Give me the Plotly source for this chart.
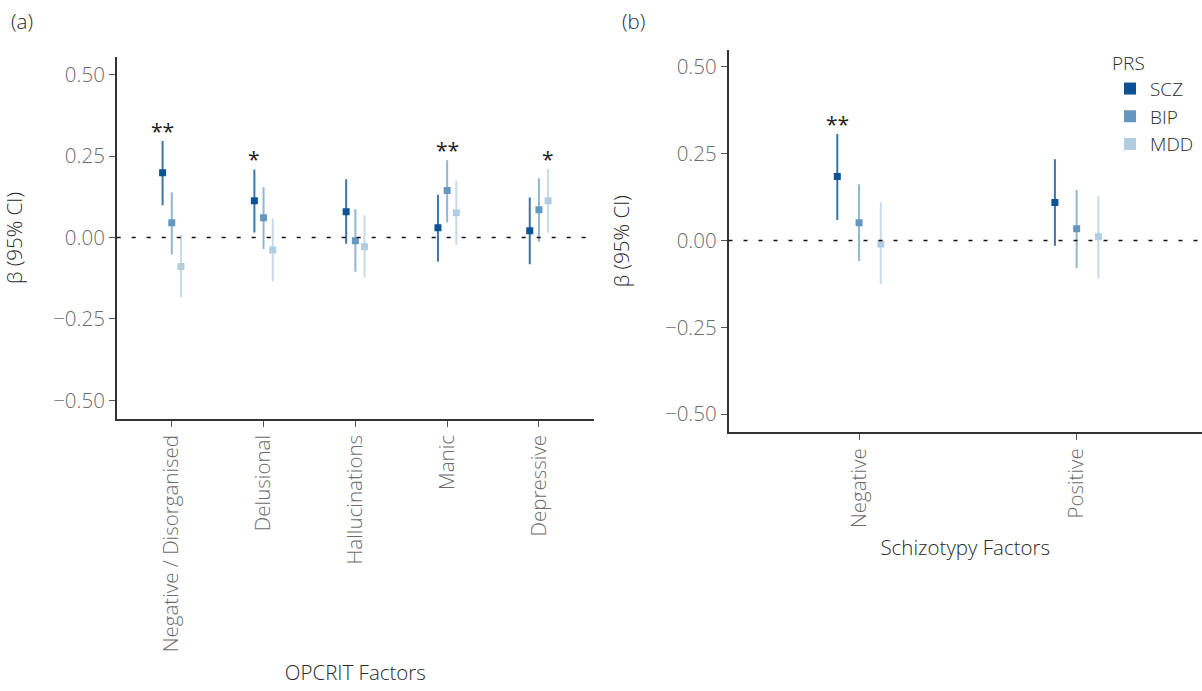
import plotly.graph_objects as go

# ---------------- data ----------------
factors_a = ["Negative / Disorganised", "Delusional", "Hallucinations", "Manic", "Depressive"]
factors_b = ["Negative", "Positive"]
prs = ["SCZ", "BIP", "MDD"]

scz_a_beta = [0.199, 0.113, 0.079, 0.030, 0.021]
scz_a_lo = [0.099, 0.015, -0.019, -0.074, -0.082]
scz_a_hi = [0.296, 0.209, 0.179, 0.131, 0.123]
bip_a_beta = [0.045, 0.061, -0.010, 0.144, 0.085]
bip_a_lo = [-0.052, -0.035, -0.105, 0.047, -0.013]
bip_a_hi = [0.138, 0.154, 0.087, 0.237, 0.182]
mdd_a_beta = [-0.089, -0.038, -0.028, 0.076, 0.113]
mdd_a_lo = [-0.183, -0.134, -0.123, -0.022, 0.015]
mdd_a_hi = [0.008, 0.058, 0.068, 0.175, 0.210]

scz_b_beta = [0.184, 0.109]
scz_b_lo = [0.059, -0.015]
scz_b_hi = [0.306, 0.234]
bip_b_beta = [0.051, 0.034]
bip_b_lo = [-0.059, -0.079]
bip_b_hi = [0.162, 0.145]
mdd_b_beta = [-0.010, 0.011]
mdd_b_lo = [-0.125, -0.109]
mdd_b_hi = [0.110, 0.127]

sig_scz_a = ["**", "*", "", "", ""]
sig_bip_a = ["", "", "", "**", ""]
sig_mdd_a = ["", "", "", "", "*"]
sig_scz_b = ["**", ""]
sig_bip_b = ["", ""]
sig_mdd_b = ["", ""]

yticks = [-0.5, -0.25, 0.0, 0.25, 0.5]

# ---------------- style ----------------
marker_colors = {"SCZ": "#0b5394", "BIP": "#6497bf", "MDD": "#b3cde0"}
line_colors = {"SCZ": "rgba(11,83,148,0.8)", "BIP": "rgba(100,151,191,0.7)", "MDD": "rgba(179,205,224,0.75)"}
offsets = {"SCZ": -0.1, "BIP": 0.0, "MDD": 0.1}
FONT = "Open Sans"
FS = 20.5
W, H = 1202, 691

fig = go.Figure()

panels = [
    ("x", "y", factors_a,
     {"SCZ": (scz_a_beta, scz_a_lo, scz_a_hi, sig_scz_a),
      "BIP": (bip_a_beta, bip_a_lo, bip_a_hi, sig_bip_a),
      "MDD": (mdd_a_beta, mdd_a_lo, mdd_a_hi, sig_mdd_a)}, False),
    ("x2", "y2", factors_b,
     {"SCZ": (scz_b_beta, scz_b_lo, scz_b_hi, sig_scz_b),
      "BIP": (bip_b_beta, bip_b_lo, bip_b_hi, sig_bip_b),
      "MDD": (mdd_b_beta, mdd_b_lo, mdd_b_hi, sig_mdd_b)}, True),
]

annotations = []
for xa, ya, cats, series, show in panels:
    for name in prs:
        beta, lo, hi, sig = series[name]
        xs = [i + offsets[name] for i in range(len(cats))]
        fig.add_trace(go.Scatter(
            x=xs, y=beta, mode="markers", name=name, xaxis=xa, yaxis=ya,
            showlegend=show, legendgroup=name,
            marker=dict(symbol="square", size=7, color=marker_colors[name]),
            error_y=dict(type="data", symmetric=False,
                         array=[h - b for h, b in zip(hi, beta)],
                         arrayminus=[b - l for b, l in zip(beta, lo)],
                         width=0, thickness=2, color=line_colors[name]),
        ))
        for xv, hv, s in zip(xs, hi, sig):
            if s:
                annotations.append(dict(
                    x=xv, y=hv, xref=xa, yref=ya, text=s, showarrow=False,
                    yanchor="bottom", yshift=-6,
                    font=dict(family=FONT, size=21, color="#222222")))

# dashed zero lines
shapes = [
    dict(type="line", xref="x domain", yref="y", x0=0, x1=1, y0=0, y1=0,
         line=dict(color="#111111", width=1.5, dash="4px,11px")),
    dict(type="line", xref="x2 domain", yref="y2", x0=0, x1=1, y0=0, y1=0,
         line=dict(color="#111111", width=1.5, dash="4px,11px")),
]

axis_common = dict(showgrid=False, zeroline=False, showline=True, linecolor="#333333",
                   linewidth=1.5, ticks="outside", ticklen=6, tickcolor="#555555",
                   tickwidth=1.2,
                   tickfont=dict(family=FONT, size=FS, color="#6b6b6b", weight=300))
title_font = dict(family=FONT, size=FS, color="#2a2a2a", weight=300)

fig.update_layout(
    width=W, height=H, margin=dict(l=0, r=0, t=0, b=0),
    plot_bgcolor="white", paper_bgcolor="white",
    xaxis=dict(domain=[116.7 / W, 594 / W], range=[-0.6, 4.6],
               tickmode="array", tickvals=list(range(len(factors_a))), ticktext=factors_a,
               tickangle=-90, anchor="y",
               title=dict(text="OPCRIT Factors", standoff=14, font=title_font),
               **axis_common),
    yaxis=dict(domain=[1 - 419 / H, 1 - 57 / H], range=[-0.557, 0.554],
               tickmode="array", tickvals=yticks, tickformat=".2f", anchor="x",
               title=dict(text="β (95% CI)", standoff=30, font=title_font),
               **axis_common),
    xaxis2=dict(domain=[728.5 / W, 1.0], range=[-0.6, 1.576],
                tickmode="array", tickvals=list(range(len(factors_b))), ticktext=factors_b,
                tickangle=-90, anchor="y2",
                title=dict(text="Schizotypy Factors", standoff=14, font=title_font),
                **axis_common),
    yaxis2=dict(domain=[1 - 432.3 / H, 1 - 50 / H], range=[-0.552, 0.548],
                tickmode="array", tickvals=yticks, tickformat=".2f", anchor="x2",
                title=dict(text="β (95% CI)", standoff=30, font=title_font),
                **axis_common),
    legend=dict(x=1110 / W, y=1 - 45 / H, xanchor="left", yanchor="top",
                bgcolor="rgba(0,0,0,0)",
                title=dict(text="PRS", font=dict(family=FONT, size=19, color="#2a2a2a", weight=300)),
                font=dict(family=FONT, size=19, color="#2a2a2a", weight=300),
                itemsizing="constant", tracegroupgap=0),
    shapes=shapes,
    annotations=annotations + [
        dict(x=9 / W, y=1 - 21 / H, xref="paper", yref="paper", text="(a)", showarrow=False,
             xanchor="left", yanchor="middle", font=title_font),
        dict(x=620 / W, y=1 - 21 / H, xref="paper", yref="paper", text="(b)", showarrow=False,
             xanchor="left", yanchor="middle", font=title_font),
    ],
)

fig.write_html("out.html", config={"displayModeBar": False},
               post_script="document.body.style.margin='0';")
